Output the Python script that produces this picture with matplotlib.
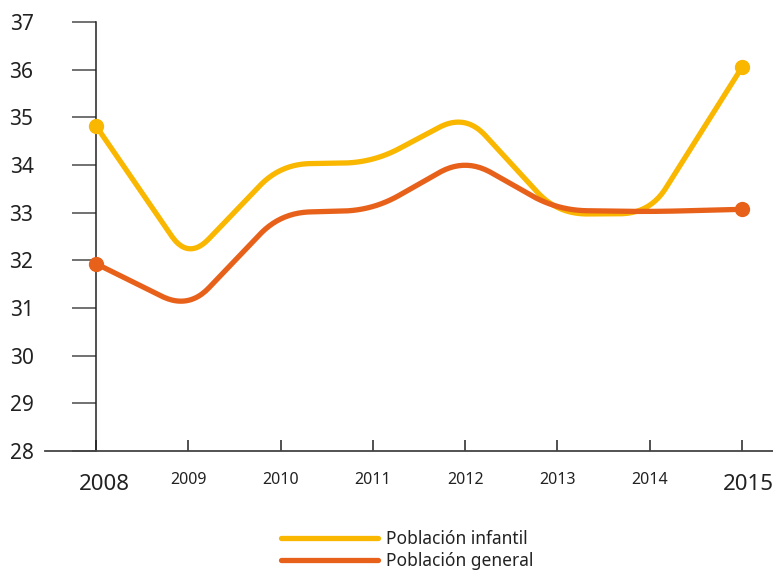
import numpy as np
import matplotlib
matplotlib.use("Agg")
import matplotlib.pyplot as plt
from matplotlib.lines import Line2D
from matplotlib.transforms import ScaledTranslation

plt.rcParams['font.family'] = ['Noto Sans', 'DejaVu Sans']

years = [2008, 2009, 2010, 2011, 2012, 2013, 2014, 2015]
infantil = [34.82, 32.0, 34.02, 34.05, 35.08, 32.97, 32.98, 36.05]
general = [31.93, 30.97, 33.0, 33.05, 34.15, 33.05, 33.02, 33.07]
y_ticks = [28, 29, 30, 31, 32, 33, 34, 35, 36, 37]
labels = ['Población infantil', 'Población general']

c_inf = '#F9B700'
c_gen = '#E8611A'


def rounded(ax, xs, ys, r=30):
    # polyline with rounded corners, built in pixel space
    pts = ax.transData.transform(np.column_stack([xs, ys]))
    out = [pts[0]]
    t = np.linspace(0, 1, 25)[:, None]
    for i in range(1, len(pts) - 1):
        p0, p1, p2 = pts[i - 1], pts[i], pts[i + 1]
        d1, d2 = p0 - p1, p2 - p1
        l1, l2 = np.hypot(*d1), np.hypot(*d2)
        c = min(r, l1 / 2, l2 / 2)
        a = p1 + d1 / l1 * c
        b = p1 + d2 / l2 * c
        out.extend((1 - t) ** 2 * a + 2 * (1 - t) * t * p1 + t ** 2 * b)
    out.append(pts[-1])
    return ax.transData.inverted().transform(np.array(out))


fig = plt.figure(figsize=(7.73, 5.72), dpi=100)
ax = fig.add_axes([45 / 773, 121 / 572, 728 / 773, 429 / 572])
ax.set_xlim(2008 - 51 / 92.29, 2015 + 31 / 92.29)
ax.set_ylim(28, 37)

for s in ['top', 'right']:
    ax.spines[s].set_visible(False)
ax.spines['left'].set_position(('data', 2008))
ax.spines['left'].set_color('#222222')
ax.spines['bottom'].set_color('#444444')
ax.spines['left'].set_linewidth(1.1)
ax.spines['bottom'].set_linewidth(1.3)

ax.set_yticks(y_ticks)
ax.set_yticklabels([str(v) for v in y_ticks])
ax.tick_params(axis='y', direction='out', length=17, width=1.3, color='#666666',
               pad=28, labelsize=15, labelcolor='#222222')
ax.set_xticks(years)
ax.set_xticklabels([str(y) for y in years])
ax.tick_params(axis='x', direction='in', length=8, width=1.2, color='#333333',
               pad=15, labelsize=11.5, labelcolor='#222222')
for lab in ax.get_xticklabels():
    if lab.get_text() in ('2008', '2015'):
        lab.set_fontsize(16)
        dx = 8 if lab.get_text() == '2008' else 6
        lab.set_transform(lab.get_transform() +
                          ScaledTranslation(dx / 100, -2 / 100, fig.dpi_scale_trans))

for vals, col in [(infantil, c_inf), (general, c_gen)]:
    xy = rounded(ax, years, vals)
    ax.plot(xy[:, 0], xy[:, 1], color=col, lw=3.8, solid_capstyle='round',
            solid_joinstyle='round', clip_on=False, zorder=3)
    ax.plot([years[0], years[-1]], [vals[0], vals[-1]], 'o', color=col, ms=10,
            clip_on=False, zorder=4)

handles = [Line2D([], [], color=c_inf, lw=3.8, solid_capstyle='round'),
           Line2D([], [], color=c_gen, lw=3.8, solid_capstyle='round')]
fig.legend(handles, labels, loc='center', bbox_to_anchor=(0.527, 0.038),
           frameon=False, fontsize=12.5, handlelength=5.6, handletextpad=0.45,
           labelspacing=0.25, labelcolor='#222222')

fig.savefig('out.png', dpi=100)
